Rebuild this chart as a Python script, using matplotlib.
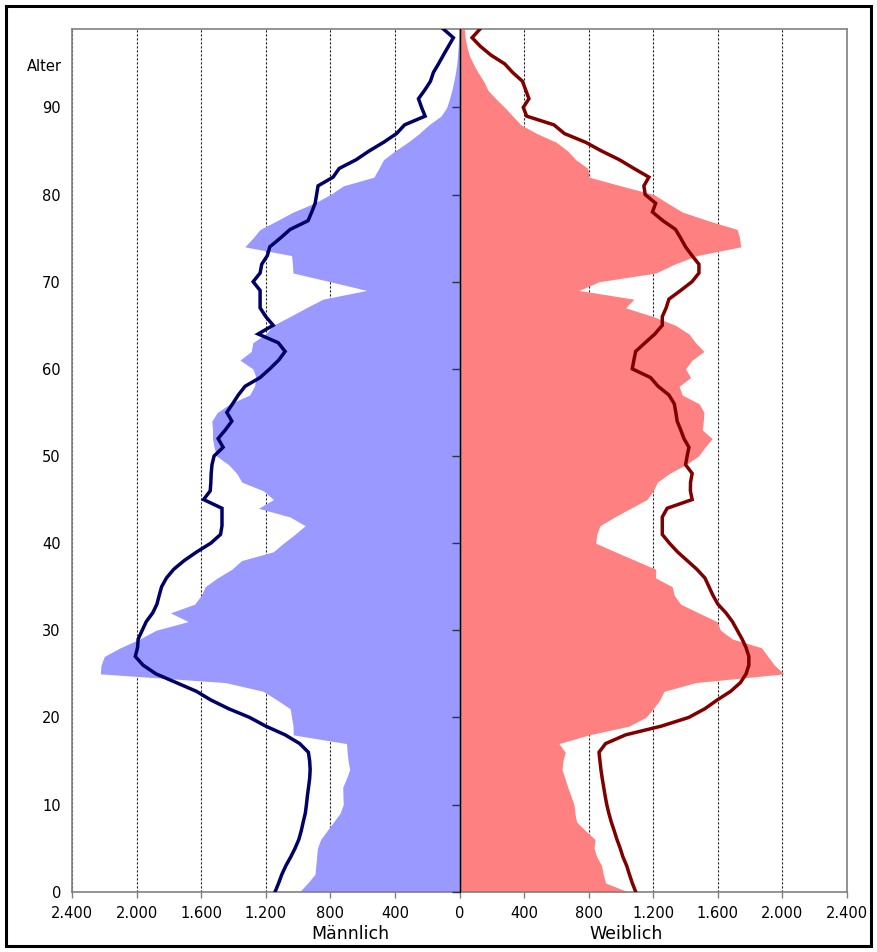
import numpy as np
import matplotlib
matplotlib.use("Agg")
import matplotlib.pyplot as plt
from matplotlib.patches import Rectangle
from matplotlib.ticker import FuncFormatter, NullFormatter
import matplotlib.transforms as mtransforms

plt.rcParams['font.family'] = ['DejaVu Sans']

ages = np.arange(0, 100)

male_fill = [990, 940, 895, 890, 885, 880, 860, 820, 780, 740,
             720, 722, 723, 700, 680, 690, 696, 700, 1030, 1031,
             1040, 1049, 1130, 1216, 1450, 2225, 2220, 2200, 2100, 1980,
             1880, 1680, 1790, 1640, 1600, 1575, 1500, 1410, 1350, 1154,
             1090, 1020, 956, 1049, 1245, 1152, 1214, 1348, 1380, 1430,
             1505, 1520, 1530, 1530, 1534, 1500, 1420, 1300, 1270, 1260,
             1280, 1360, 1290, 1280, 1200, 1154, 1050, 950, 845, 575,
             800, 1031, 1035, 1040, 1330, 1280, 1235, 1130, 1030, 900,
             800, 720, 530, 500, 471, 400, 320, 250, 190, 115,
             79, 62, 47, 35, 25, 17, 12, 8, 5, 3]

male_line = [1142, 1120, 1100, 1075, 1045, 1018, 995, 980, 968, 955,
             948, 942, 935, 928, 925, 928, 936, 990, 1080, 1200,
             1300, 1430, 1540, 1630, 1755, 1880, 1960, 2008, 1994, 1990,
             1965, 1940, 1900, 1874, 1860, 1845, 1815, 1770, 1705, 1627,
             1540, 1480, 1471, 1471, 1471, 1585, 1544, 1540, 1538, 1533,
             1520, 1464, 1495, 1450, 1410, 1441, 1405, 1370, 1328, 1235,
             1175, 1120, 1080, 1123, 1247, 1154, 1200, 1235, 1235, 1235,
             1278, 1235, 1225, 1190, 1175, 1110, 1049, 938, 915, 894,
             885, 876, 783, 745, 640, 560, 470, 390, 340, 213,
             235, 254, 215, 180, 162, 130, 100, 69, 38, 100]

female_fill = [1040, 905, 890, 880, 850, 833, 839, 780, 725, 715,
               709, 690, 670, 653, 635, 640, 655, 616, 802, 1049,
               1153, 1200, 1240, 1266, 1462, 2009, 1950, 1910, 1870, 1690,
               1617, 1594, 1480, 1370, 1330, 1317, 1215, 1215, 1090, 965,
               843, 850, 870, 960, 1060, 1160, 1200, 1225, 1300, 1400,
               1480, 1520, 1565, 1503, 1510, 1514, 1483, 1379, 1360, 1431,
               1400, 1440, 1514, 1462, 1421, 1338, 1200, 1029, 1080, 740,
               864, 1215, 1330, 1470, 1741, 1735, 1720, 1540, 1380, 1290,
               1204, 1000, 802, 795, 720, 670, 600, 480, 380, 330,
               280, 225, 175, 150, 115, 85, 60, 45, 35, 30]

female_line = [1091, 1070, 1052, 1035, 1012, 995, 975, 958, 940, 925,
               912, 902, 893, 884, 876, 870, 864, 905, 1029, 1250,
               1420, 1520, 1596, 1680, 1740, 1775, 1792, 1792, 1775, 1750,
               1720, 1690, 1650, 1600, 1570, 1545, 1520, 1470, 1410, 1350,
               1300, 1256, 1256, 1256, 1286, 1441, 1430, 1431, 1441, 1400,
               1410, 1421, 1390, 1370, 1348, 1340, 1330, 1297, 1230, 1183,
               1070, 1080, 1091, 1150, 1210, 1256, 1256, 1280, 1297, 1370,
               1440, 1483, 1483, 1440, 1400, 1370, 1338, 1260, 1195, 1215,
               1150, 1142, 1173, 1080, 990, 880, 781, 650, 585, 416,
               395, 430, 410, 390, 330, 280, 195, 130, 78, 127]

x_ticks = list(range(-2400, 2401, 400))
y_ticks = list(range(0, 91, 10))

W, H = 877, 952
fig = plt.figure(figsize=(W / 100, H / 100), dpi=100)
fig.patch.set_facecolor('white')

ax = fig.add_axes([72 / W, (H - 891.7) / H, (847 - 72) / W, (891.7 - 29) / H])

m_fill = -np.array(male_fill)
f_fill = np.array(female_fill)
m_line = -np.array(male_line)
f_line = np.array(female_line)

ax.fill_betweenx(ages, m_fill, 0, color='#9999FF', lw=0, zorder=2)
ax.fill_betweenx(ages, 0, f_fill, color='#FF8080', lw=0, zorder=2)
ax.plot(m_line, ages, color='#000066', lw=2.5, zorder=4, solid_joinstyle='miter')
ax.plot(f_line, ages, color='#800000', lw=2.5, zorder=4, solid_joinstyle='miter')

ax.set_xlim(-2400, 2400)
ax.set_ylim(0, 99)
ax.set_xticks(x_ticks)
ax.set_yticks(y_ticks)
ax.xaxis.set_major_formatter(FuncFormatter(lambda v, p: f"{abs(int(round(v))):,}".replace(',', '.')))
ax.set_axisbelow(True)
ax.grid(axis='x', color='#222222', lw=0.8, ls=(0, (2, 1.6)), zorder=0)
ax.grid(axis='y', visible=False)

for s in ax.spines.values():
    s.set_color('#808080')
    s.set_linewidth(1.2)

ax.tick_params(axis='x', direction='out', length=4, width=1, color='#808080',
               labelsize=10.5, pad=6.5, labelcolor='black')
ax.tick_params(axis='y', length=0, labelsize=10.5, pad=8, labelcolor='black')

# central vertical axis with ticks
ax.axvline(0, color='black', lw=1, zorder=5)
sec = ax.secondary_yaxis(0.5)
sec.set_zorder(6)
sec.set_yticks(y_ticks)
sec.yaxis.set_major_formatter(NullFormatter())
sec.tick_params(axis='y', direction='in', length=6, width=1, color='#333333',
                labelleft=False, labelright=False)
sec.spines['left'].set_visible(False)

ytr = ax.get_yaxis_transform()
ax.text(-10 / 775, 94.7, 'Alter', transform=ytr, ha='right', va='center', fontsize=10.5)

blend = mtransforms.blended_transform_factory(ax.transData, fig.transFigure)
ax.text(-677, (H - 934) / H, 'Männlich', transform=blend, ha='center', va='center', fontsize=12.5)
ax.text(1030, (H - 934) / H, 'Weiblich', transform=blend, ha='center', va='center', fontsize=12.5)

# outer frame
fig.patches.append(Rectangle((5.5 / W, 6 / H), (871 - 5.5) / W, (946 - 6) / H,
                             transform=fig.transFigure, fill=False, edgecolor='black', lw=2.2))

fig.savefig('out.png', dpi=100)
